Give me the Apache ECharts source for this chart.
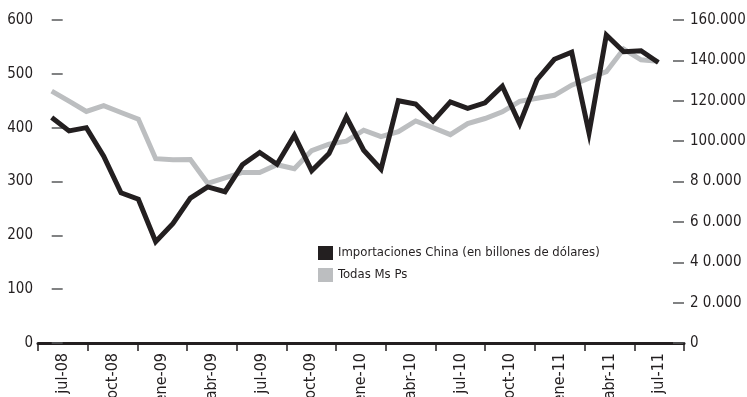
<!DOCTYPE html>
<html>
<head>
<meta charset="utf-8">
<script src="https://cdn.jsdelivr.net/npm/echarts@6/dist/echarts.min.js"></script>
<style>
  html, body { margin: 0; padding: 0; background: #fff; }
  #chart { width: 747px; height: 397px; }
</style>
</head>
<body>
<div id="chart"></div>
<script>
// etiquetas del eje x (una cada trimestre)
var tickLabels = ['jul-08', 'oct-08', 'ene-09', 'abr-09', 'jul-09', 'oct-09', 'ene-10',
                  'abr-10', 'jul-10', 'oct-10', 'ene-11', 'abr-11', 'jul-11'];

// meses de los datos
var months = ['jul-08', 'ago-08', 'sep-08', 'oct-08', 'nov-08', 'dic-08',
              'ene-09', 'feb-09', 'mar-09', 'abr-09', 'may-09', 'jun-09',
              'jul-09', 'ago-09', 'sep-09', 'oct-09', 'nov-09', 'dic-09',
              'ene-10', 'feb-10', 'mar-10', 'abr-10', 'may-10', 'jun-10',
              'jul-10', 'ago-10', 'sep-10', 'oct-10', 'nov-10', 'dic-10',
              'ene-11', 'feb-11', 'mar-11', 'abr-11', 'may-11', 'jun-11'];

// Importaciones China (eje izquierdo)
var importsChina = [419, 394, 400, 347, 279, 267, 188, 222, 269, 290, 281, 331,
                    354, 332, 386, 320, 352, 420, 358, 323, 450, 444, 412, 448,
                    436, 446, 477, 407, 489, 527, 540, 390, 572, 541, 543, 521];

// Todas Ms Ps (eje derecho)
var todasMsPs = [124800, 119800, 114700, 117600, 114200, 110900, 91300, 90800, 90900, 79100, 81800, 84500,
                 84500, 88300, 86300, 95300, 98500, 100000, 105400, 102200, 104700, 110000, 106700, 103200,
                 108700, 111200, 114500, 119700, 121200, 122700, 127700, 131200, 134400, 145600, 140300, 139500];

var FONT = "'Liberation Sans Narrow', 'DejaVu Sans Condensed', sans-serif";
var DARK = '#231f20';
var GREY = '#bcbec0';

function rightLabel (v) {
    if (v === 0) return '0';
    var s = String(v / 1000);
    var str = s + '.000';
    // en el original los valores menores de 100.000 llevan un espacio
    if (v < 100000) str = s.charAt(0) + ' ' + s.slice(1) + '.000';
    return str;
}

var chart = echarts.init(document.getElementById('chart'));

var option = {
    animation: false,
    backgroundColor: '#fff',
    grid: { left: 38, right: 63, top: 20, bottom: 54, containLabel: false, outerBoundsMode: 'none' },
    legend: {
        orient: 'vertical',
        left: 318,
        top: 246,
        icon: 'rect',
        itemWidth: 15,
        itemHeight: 14,
        itemGap: 8,
        padding: 0,
        selectedMode: false,
        textStyle: { fontFamily: FONT, fontSize: 13, color: DARK },
        data: ['Importaciones China (en billones de dólares)', 'Todas Ms Ps']
    },
    xAxis: [{
        type: 'category',
        data: tickLabels,
        boundaryGap: true,
        position: 'bottom',
        axisLine: { lineStyle: { color: DARK, width: 3 } },
        axisTick: { show: true, length: 8, lineStyle: { color: DARK, width: 1.5 }, alignWithLabel: false },
        axisLabel: { rotate: 90, margin: 10, fontFamily: FONT, fontSize: 16, color: DARK, interval: 0 },
        splitLine: { show: false }
    }, {
        // eje oculto para posicionar los datos mensuales
        type: 'value',
        show: false,
        min: -0.79,
        max: 36.48,
        position: 'top'
    }],
    yAxis: [{
        type: 'value',
        min: 0,
        max: 600,
        interval: 100,
        position: 'left',
        axisLine: { show: false },
        axisTick: { show: true, inside: true, length: 11, lineStyle: { color: '#58595b', width: 1.5 } },
        axisLabel: { margin: 5, fontFamily: FONT, fontSize: 15, color: DARK },
        splitLine: { show: false }
    }, {
        type: 'value',
        min: 0,
        max: 160000,
        interval: 20000,
        position: 'right',
        axisLine: { show: false },
        axisTick: { show: true, inside: true, length: 11, lineStyle: { color: '#58595b', width: 1.5 } },
        axisLabel: { margin: 6, fontFamily: FONT, fontSize: 15, color: DARK, formatter: rightLabel },
        splitLine: { show: false }
    }],
    series: [{
        name: 'Todas Ms Ps',
        type: 'line',
        xAxisIndex: 1,
        yAxisIndex: 1,
        symbol: 'none',
        lineStyle: { color: GREY, width: 5, join: 'miter' },
        itemStyle: { color: GREY },
        data: months.map(function (m, i) { return { name: m, value: [i, todasMsPs[i]] }; }),
        z: 2
    }, {
        name: 'Importaciones China (en billones de dólares)',
        type: 'line',
        xAxisIndex: 1,
        yAxisIndex: 0,
        symbol: 'none',
        lineStyle: { color: DARK, width: 5, join: 'miter' },
        itemStyle: { color: DARK },
        data: months.map(function (m, i) { return { name: m, value: [i, importsChina[i]] }; }),
        z: 3
    }]
};

chart.setOption(option);
</script>
</body>
</html>
